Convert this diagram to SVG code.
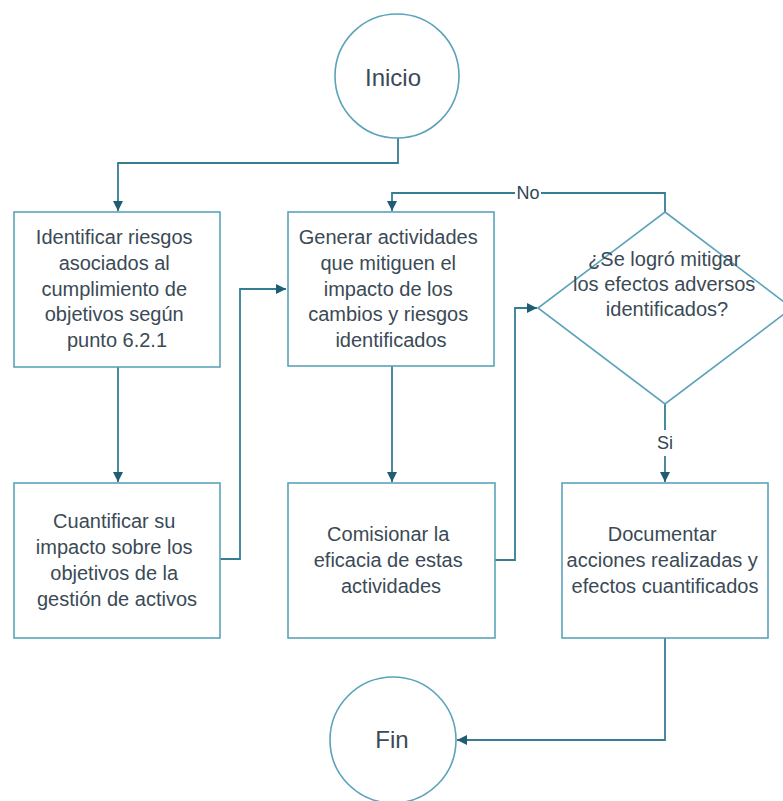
<svg xmlns="http://www.w3.org/2000/svg" width="783" height="801" viewBox="0 0 783 801">
  <style>
    .shape { fill: #ffffff; stroke: #5aa3ba; stroke-width: 1.6; }
    .label { font-family: "Liberation Sans", Arial, sans-serif; font-size: 20px; fill: #3a4a56; text-anchor: middle; }
    .term { font-size: 24px; }
    .edge { fill: none; stroke: #357d93; stroke-width: 1.8; }
    .edge-label { font-family: "Liberation Sans", Arial, sans-serif; font-size: 18px; fill: #2f4652; text-anchor: middle; }
  </style>
  <defs>
    <marker id="arrow" markerUnits="userSpaceOnUse" markerWidth="10" markerHeight="10" refX="10" refY="5" orient="auto">
      <path d="M0,0 L10,5 L0,10 z" fill="#1f5d73"/>
    </marker>
  </defs>

  <rect width="783" height="801" fill="#ffffff"/>

  <!-- connectors -->
  <g id="connectors">
    <path class="edge" d="M398,138 V163 H118 V211" marker-end="url(#arrow)"/>
    <path class="edge" d="M118,367 V482" marker-end="url(#arrow)"/>
    <path class="edge" d="M220,559 H240 V289 H286" marker-end="url(#arrow)"/>
    <path class="edge" d="M392,366 V482" marker-end="url(#arrow)"/>
    <path class="edge" d="M495,560 H515 V308 H537" marker-end="url(#arrow)"/>
    <path class="edge" d="M665,212 V193 H541"/>
    <path class="edge" d="M515,193 H392 V211" marker-end="url(#arrow)"/>
    <text class="edge-label" x="528" y="199">No</text>
    <path class="edge" d="M665,404 V430"/>
    <path class="edge" d="M665,456 V482" marker-end="url(#arrow)"/>
    <text class="edge-label" x="665" y="449">Si</text>
    <path class="edge" d="M665,638 V740 H457" marker-end="url(#arrow)"/>
  </g>

  <!-- start -->
  <g id="inicio">
    <circle class="shape" cx="397" cy="76" r="62"/>
    <text class="label term" x="393" y="86">Inicio</text>
  </g>

  <g id="identificar">
    <rect class="shape" x="14" y="212" width="206" height="155"/>
    <text class="label">
      <tspan x="117" y="244">Identificar riesgos</tspan>
      <tspan x="117" y="270">asociados al</tspan>
      <tspan x="117" y="296">cumplimiento de</tspan>
      <tspan x="117" y="321">objetivos según</tspan>
      <tspan x="117" y="347">punto 6.2.1</tspan>
    </text>
  </g>

  <g id="generar">
    <rect class="shape" x="288" y="212" width="206" height="154"/>
    <text class="label">
      <tspan x="391" y="244">Generar actividades</tspan>
      <tspan x="391" y="270">que mitiguen el</tspan>
      <tspan x="391" y="296">impacto de los</tspan>
      <tspan x="391" y="321">cambios y riesgos</tspan>
      <tspan x="391" y="347">identificados</tspan>
    </text>
  </g>

  <g id="decision">
    <polygon class="shape" points="665,212 792,308 665,404 538,308"/>
    <text class="label">
      <tspan x="667" y="266">¿Se logró mitigar</tspan>
      <tspan x="667" y="291">los efectos adversos</tspan>
      <tspan x="667" y="316">identificados?</tspan>
    </text>
  </g>

  <g id="cuantificar">
    <rect class="shape" x="14" y="483" width="206" height="155"/>
    <text class="label">
      <tspan x="117" y="528">Cuantificar su</tspan>
      <tspan x="117" y="554">impacto sobre los</tspan>
      <tspan x="117" y="580">objetivos de la</tspan>
      <tspan x="117" y="606">gestión de activos</tspan>
    </text>
  </g>

  <g id="comisionar">
    <rect class="shape" x="288" y="483" width="207" height="155"/>
    <text class="label">
      <tspan x="391" y="541">Comisionar la</tspan>
      <tspan x="391" y="567">eficacia de estas</tspan>
      <tspan x="391" y="593">actividades</tspan>
    </text>
  </g>

  <g id="documentar">
    <rect class="shape" x="562" y="483" width="206" height="155"/>
    <text class="label">
      <tspan x="665" y="541">Documentar</tspan>
      <tspan x="665" y="567">acciones realizadas y</tspan>
      <tspan x="665" y="593">efectos cuantificados</tspan>
    </text>
  </g>

  <!-- end -->
  <g id="fin">
    <circle class="shape" cx="393" cy="740" r="63"/>
    <text class="label term" x="392" y="748">Fin</text>
  </g>
</svg>
